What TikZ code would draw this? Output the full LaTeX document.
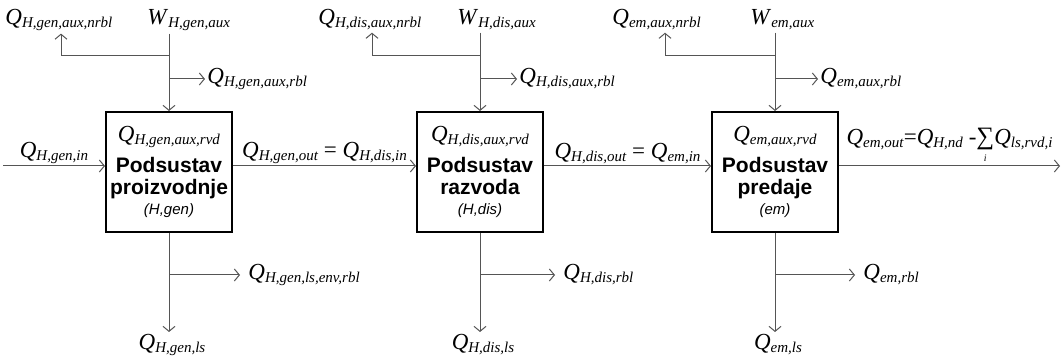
\documentclass[tikz,border=0pt]{standalone}
\usepackage{fontspec}
\setmainfont{Liberation Serif}
\setsansfont{Liberation Sans}
\usetikzlibrary{positioning,arrows.meta}
\definecolor{flowgray}{RGB}{85,85,85}
\newcommand{\qsym}[2]{{\fontsize{11.5}{13}\selectfont\textit{#1}}\raisebox{-1.5pt}{\fontsize{7.5}{8}\selectfont\textit{#2}}}
\newcommand{\boxname}[1]{{\sffamily\bfseries #1}}
\newcommand{\boxtag}[1]{{\sffamily\itshape\fontsize{7.5}{9}\selectfont #1}}

\begin{document}
\begin{tikzpicture}[x=0.5pt,y=-0.5pt,
  subsys/.style={draw=black,line width=1pt,minimum width=63pt,minimum height=60pt,
    align=center,inner sep=0pt,font=\fontsize{10.5}{11}\selectfont},
  link/.style={draw=flowgray,line width=0.5pt},
  flow/.style={link,-{Straight Barb[length=2.5pt,width=6pt]}},
  qlabel/.style={font=\fontsize{11.5}{13}\selectfont,inner sep=1pt},
  qout/.style={qlabel,inner xsep=4pt}]
\useasboundingbox (0,0) rectangle (1063,362);

% Subsystems
\node[subsys] (gen) at (169,172) {\qsym{Q}{H,gen,aux,rvd}\\[4.5pt]\boxname{Podsustav}\\\boxname{proizvodnje}\\[-1pt]\boxtag{(H,gen)}};
\node[subsys] (dis) at (480,172) {\qsym{Q}{H,dis,aux,rvd}\\[4.5pt]\boxname{Podsustav}\\\boxname{razvoda}\\[-1pt]\boxtag{(H,dis)}};
\node[subsys] (em) at (775,172) {\qsym{Q}{em,aux,rvd}\\[4.5pt]\boxname{Podsustav}\\\boxname{predaje}\\[-1pt]\boxtag{(em)}};

% Main flow
\coordinate (src) at (3,166);
\coordinate (sink) at (1060,166);
\draw[flow] (src) -- node[qlabel,above] {\qsym{Q}{H,gen,in}} (src -| gen.west);
\draw[flow] (gen.east |- src) -- node[qlabel,above] {\qsym{Q}{H,gen,out} = \qsym{Q}{H,dis,in}} (dis.west |- src);
\draw[flow] (dis.east |- src) -- node[qlabel,above] {\qsym{Q}{H,dis,out} = \qsym{Q}{em,in}} (em.west |- src);
\draw[flow] (em.east |- src) -- node[qlabel,above] {\qsym{Q}{em,out}=\qsym{Q}{H,nd} -$\mathop{\hbox{\fontsize{12.5}{12.5}\selectfont∑}}\limits_{\hbox{\fontsize{5}{5}\selectfont\textit{i}}}$\qsym{Q}{ls,rvd,i}} (sink);

% Auxiliary energy, generation
\node[qlabel,anchor=base west] (wgen) at (145,25) {\qsym{W}{H,gen,aux}};
\node[qlabel,anchor=base west] (ngen) at (3,25) {\qsym{Q}{H,gen,aux,nrbl}};
\node[qlabel,anchor=west] (rgen) at (205,79) {\qsym{Q}{H,gen,aux,rbl}};
\coordinate (gena) at (gen.north |- 0,56);
\coordinate (genb) at (gen.north |- 0,79);
\coordinate (genn) at (61,56);
\draw[flow] (gen.north |- wgen.south) -- (gen.north);
\draw[flow] (gena) -- (genn) -- (genn |- ngen.south);
\draw[flow] (genb) -- (rgen.west);
% Losses, generation
\node[qout,anchor=west] (egen) at (240,275) {\qsym{Q}{H,gen,ls,env,rbl}};
\node[qlabel,anchor=north] (lgen) at (172,332) {\qsym{Q}{H,gen,ls}};
\coordinate (genc) at (gen.south |- 0,275);
\draw[link] (gen.south) -- (genc);
\draw[flow] (genc) -- (egen.west);
\draw[flow] (genc) -- (genc |- lgen.north);

% Auxiliary energy, distribution
\node[qlabel,anchor=base west] (wdis) at (455,25) {\qsym{W}{H,dis,aux}};
\node[qlabel,anchor=base west] (ndis) at (316,25) {\qsym{Q}{H,dis,aux,nrbl}};
\node[qlabel,anchor=west] (rdis) at (517,79) {\qsym{Q}{H,dis,aux,rbl}};
\coordinate (disa) at (dis.north |- 0,56);
\coordinate (disb) at (dis.north |- 0,79);
\coordinate (disn) at (372,56);
\draw[flow] (dis.north |- wdis.south) -- (dis.north);
\draw[flow] (disa) -- (disn) -- (disn |- ndis.south);
\draw[flow] (disb) -- (rdis.west);
% Losses, distribution
\node[qout,anchor=west] (edis) at (555,275) {\qsym{Q}{H,dis,rbl}};
\node[qlabel,anchor=north] (ldis) at (483,332) {\qsym{Q}{H,dis,ls}};
\coordinate (disc) at (dis.south |- 0,275);
\draw[link] (dis.south) -- (disc);
\draw[flow] (disc) -- (edis.west);
\draw[flow] (disc) -- (disc |- ldis.north);

% Auxiliary energy, emission
\node[qlabel,anchor=base west] (wem) at (748,25) {\qsym{W}{em,aux}};
\node[qlabel,anchor=base west] (nem) at (610,25) {\qsym{Q}{em,aux,nrbl}};
\node[qlabel,anchor=west] (rem) at (818,79) {\qsym{Q}{em,aux,rbl}};
\coordinate (ema) at (em.north |- 0,56);
\coordinate (emb) at (em.north |- 0,79);
\coordinate (emn) at (665,56);
\draw[flow] (em.north |- wem.south) -- (em.north);
\draw[flow] (ema) -- (emn) -- (emn |- nem.south);
\draw[flow] (emb) -- (rem.west);
% Losses, emission
\node[qout,anchor=west] (eem) at (855,275) {\qsym{Q}{em,rbl}};
\node[qlabel,anchor=north] (lem) at (778,332) {\qsym{Q}{em,ls}};
\coordinate (emc) at (em.south |- 0,275);
\draw[link] (em.south) -- (emc);
\draw[flow] (emc) -- (eem.west);
\draw[flow] (emc) -- (emc |- lem.north);
\end{tikzpicture}
\end{document}
